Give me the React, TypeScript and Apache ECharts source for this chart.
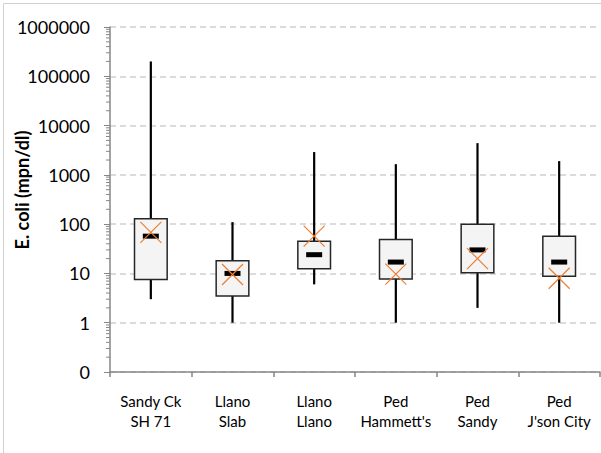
import React, { useEffect, useRef } from "react";
import * as echarts from "echarts";

const categories = ["Sandy Ck\nSH 71", "Llano\nSlab", "Llano\nLlano", "Ped\nHammett's", "Ped\nSandy", "Ped\nJ'son City"];
const minVals = [3, 1, 6, 1, 2, 1];
const q1Vals = [7.5, 3.5, 12.5, 7.7, 10.3, 8.8];
const medianVals = [57, 10, 24, 17, 30, 17];
const q3Vals = [128, 18, 45, 49, 99, 57];
const maxVals = [200000, 110, 2900, 1650, 4400, 1900];
const meanVals = [68, 9.5, 57, 9.7, 20, 8];
const yMin = 0.1;
const yMax = 1000000;
const minorTickValues: number[] = [];
for (let e = -1; e < 6; e++) {
  for (let m = 2; m <= 9; m++) minorTickValues.push(m * Math.pow(10, e));
}

const FONT = "Lato, 'Noto Sans', sans-serif";

export default function App() {
  const ref = useRef<HTMLDivElement>(null);
  useEffect(() => {
    document.body.style.margin = "0";
    if (!ref.current) return;
    const chart = echarts.init(ref.current, undefined, { renderer: "svg" });
    const boxData = categories.map((_, i) => [i, minVals[i], q1Vals[i], medianVals[i], q3Vals[i], maxVals[i], meanVals[i]]);
    chart.setOption({
      animation: false,
      backgroundColor: "#fff",
      grid: { left: 110, right: 1, top: 27, bottom: 81 },
      graphic: [
        {
          type: "rect",
          shape: { x: 3.5, y: 3.5, width: 640, height: 480 },
          style: { fill: "none", stroke: "#d0d0d0", lineWidth: 1 },
          silent: true,
          z: -10,
        },
        {
          type: "text",
          x: 22,
          y: 190,
          rotation: Math.PI / 2,
          style: {
            text: "E. coli (mpn/dl)",
            font: `bold 18px ${FONT}`,
            fill: "#000",
            align: "center",
            verticalAlign: "middle",
          },
        },
      ],
      xAxis: {
        type: "category",
        data: categories,
        boundaryGap: true,
        axisLine: { lineStyle: { color: "#868686", width: 1.5 } },
        axisTick: { show: true, interval: 0, length: 5, lineStyle: { color: "#868686", width: 1.5 } },
        axisLabel: { interval: 0, color: "#000", fontFamily: FONT, fontSize: 15, lineHeight: 20, margin: 19 },
        splitLine: { show: false },
      },
      yAxis: {
        type: "log",
        logBase: 10,
        min: yMin,
        max: yMax,
        interval: 1,
        splitNumber: 7,
        axisLine: { show: true, lineStyle: { color: "#868686", width: 1.5 } },
        axisTick: { show: true, length: 6, lineStyle: { color: "#868686", width: 1 } },
        axisLabel: {
          color: "#000",
          fontFamily: FONT,
          fontSize: 18,
          margin: 20,
          formatter: (v: number) => (v < 1 ? "0" : String(Math.round(v))),
        },
        splitLine: { show: true, lineStyle: { color: "#d0d0d0", type: [6, 4], width: 1.5 } },
      },
      series: [
        {
          type: "custom",
          data: minorTickValues.map((v) => [0, v]),
          renderItem: (params: any, api: any) => {
            const p = api.coord([0, api.value(1)]);
            const bw = api.size([1, 0])[0];
            const x = p[0] - bw / 2;
            return {
              type: "line",
              shape: { x1: x - 4, y1: p[1], x2: x, y2: p[1] },
              style: { stroke: "#868686", lineWidth: 1 },
            };
          },
          silent: true,
          z: 1,
        },
        {
          type: "custom",
          data: boxData,
          renderItem: (params: any, api: any) => {
            const i = api.value(0);
            const lo = api.coord([i, api.value(1)]);
            const q1 = api.coord([i, api.value(2)]);
            const med = api.coord([i, api.value(3)]);
            const q3 = api.coord([i, api.value(4)]);
            const hi = api.coord([i, api.value(5)]);
            const mean = api.coord([i, api.value(6)]);
            const x = lo[0];
            const bw = api.size([1, 0])[0] * 0.4;
            const h = 10.5;
            return {
              type: "group",
              children: [
                {
                  type: "line",
                  shape: { x1: x, y1: hi[1], x2: x, y2: lo[1] },
                  style: { stroke: "#000", lineWidth: 2.2 },
                },
                {
                  type: "rect",
                  shape: { x: x - bw / 2, y: q3[1], width: bw, height: q1[1] - q3[1] },
                  style: { fill: "#f4f4f4", stroke: "#262626", lineWidth: 1.5 },
                },
                {
                  type: "rect",
                  shape: { x: x - 8, y: med[1] - 2.5, width: 16, height: 5 },
                  style: { fill: "#000" },
                },
                {
                  type: "line",
                  shape: { x1: x - h, y1: mean[1] - h, x2: x + h, y2: mean[1] + h },
                  style: { stroke: "#ED7D31", lineWidth: 1.2 },
                },
                {
                  type: "line",
                  shape: { x1: x - h, y1: mean[1] + h, x2: x + h, y2: mean[1] - h },
                  style: { stroke: "#ED7D31", lineWidth: 1.2 },
                },
              ],
            };
          },
          z: 2,
        },
      ],
    });
    return () => chart.dispose();
  }, []);
  return <div ref={ref} style={{ width: 601, height: 453 }} />;
}
